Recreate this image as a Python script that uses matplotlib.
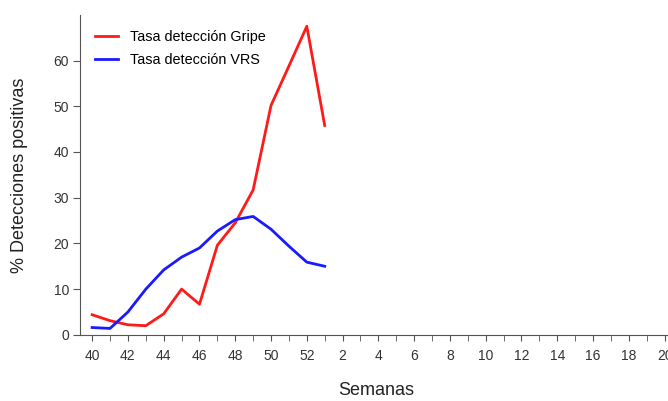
import matplotlib.pyplot as plt

# semanas epidemiologicas (40-52 y luego 1-20)
semanas = list(range(40, 53)) + list(range(1, 21))
gripe = [4.4, 3.1, 2.2, 2.0, 4.6, 10.0, 6.7, 19.6, 24.5, 31.7, 50.2, 58.8, 67.5, 45.8]
vrs = [1.6, 1.4, 5.0, 10.0, 14.2, 17.0, 19.0, 22.7, 25.2, 25.9, 23.1, 19.4, 15.9, 15.0]
etiquetas = [str(s) for s in semanas]

plt.rcParams['font.family'] = ['Liberation Sans', 'DejaVu Sans']

fig = plt.figure(figsize=(6.68, 4.01), dpi=100)
# ~17.9 px por semana, la semana 40 en x=92
ax = fig.add_axes([0.12, 0.165, 0.895, 0.798])

x_idx = list(range(len(semanas)))
ax.plot(x_idx[:len(gripe)], gripe, color='#ff1a1a', lw=2, label='Tasa detección Gripe')
ax.plot(x_idx[:len(vrs)], vrs, color='#1a1aff', lw=2, label='Tasa detección VRS')

ax.set_xlim(-0.67, 32.75)
ax.set_ylim(0, 70)
ax.set_xticks(x_idx[::2])
ax.set_xticklabels(etiquetas[::2])
ax.set_xticks(x_idx[1::2], minor=True)
ax.set_yticks([0, 10, 20, 30, 40, 50, 60])

for s in ['top', 'right']:
    ax.spines[s].set_visible(False)
for s in ['left', 'bottom']:
    ax.spines[s].set_color('#555555')
ax.tick_params(axis='both', which='both', colors='#555555', labelcolor='#333333',
               labelsize=10)
ax.tick_params(axis='y', length=5, pad=3)
ax.tick_params(axis='x', which='both', length=4, pad=6)

ax.set_ylabel('% Detecciones positivas', fontsize=13, color='#222222')
ax.yaxis.set_label_coords(-0.087, 0.50)
ax.set_xlabel('Semanas', fontsize=13, color='#222222')
ax.xaxis.set_label_coords(0.495, -0.148)

ax.legend(loc='upper left', frameon=False, fontsize=10.4, handlelength=1.6,
          handletextpad=0.8, bbox_to_anchor=(0.003, 0.992), labelspacing=0.6)

fig.savefig('out.png', dpi=100)
